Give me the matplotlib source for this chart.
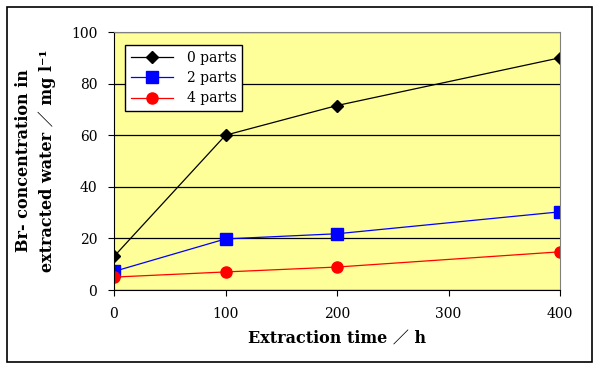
import matplotlib.pyplot as plt
from matplotlib.patches import Rectangle

# data
hours = [0, 100, 200, 400]
parts0 = [13, 60, 71.5, 90]
parts2 = [7.2, 19.8, 21.8, 30.3]
parts4 = [5.0, 7.0, 8.9, 14.8]
labels = ["0 parts", "2 parts", "4 parts"]

plt.rcParams['font.family'] = ['DejaVu Serif', 'Noto Sans CJK JP']

fig = plt.figure(figsize=(6.0, 3.68), dpi=100)
ax = fig.add_axes([114/600, 1 - 290/368, (560-114)/600, (290-32)/368])
ax.set_facecolor('#FFFF99')

ax.plot(hours, parts0, color='black', marker='D', markersize=6, lw=0.9, label=labels[0])
ax.plot(hours, parts2, color='blue', marker='s', markersize=8, lw=0.9, label=labels[1])
ax.plot(hours, parts4, color='red', marker='o', markersize=8, lw=0.9, label=labels[2])

ax.set_xlim(0, 400)
ax.set_ylim(0, 100)
ax.set_xticks([0, 100, 200, 300, 400])
ax.set_yticks([0, 20, 40, 60, 80, 100])
ax.yaxis.grid(True, color='black', lw=0.9)
ax.set_axisbelow(True)
ax.tick_params(axis='both', direction='out', length=4, labelsize=10, pad=8)
for p in ['top', 'right']:
    ax.spines[p].set_color('gray')
for p in ['left', 'bottom']:
    ax.spines[p].set_color('black')

ax.set_xlabel("Extraction time ／ h", fontsize=11.5, fontweight='bold', labelpad=7)
ax.set_ylabel("Br- concentration in\nextracted water ／ mg l⁻¹", fontsize=11.5,
              fontweight='bold', labelpad=11, linespacing=1.45)

leg = ax.legend(loc='upper left', bbox_to_anchor=(0.01, 0.975), fancybox=False,
                edgecolor='black', framealpha=1, fontsize=10, handlelength=3.0,
                borderpad=0.4, labelspacing=0.45, handletextpad=1.0)
leg.get_frame().set_linewidth(1.0)

fig.patches.append(Rectangle((7/600, 1 - 362/368), (592-7)/600, (362-7)/368,
                             transform=fig.transFigure, fill=False,
                             edgecolor='black', lw=1.2))

fig.savefig("out.png", dpi=100)
